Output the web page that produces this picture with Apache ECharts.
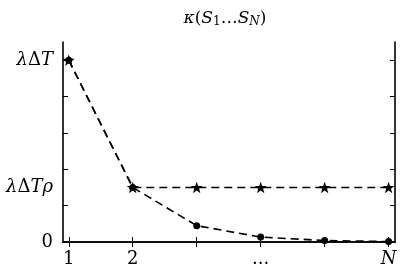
<!DOCTYPE html>
<html>
<head>
<meta charset="utf-8">
<script src="https://cdn.jsdelivr.net/npm/echarts@6/dist/echarts.min.js"></script>
<style>html,body{margin:0;padding:0;background:#fff}#c{width:415px;height:268px}</style>
</head>
<body>
<div id="c"></div>
<script>
// ---- data ----
var xValues = [1, 2, 3, 4, 5, 6];
var starValues = [1.0, 0.3, 0.3, 0.3, 0.3, 0.3];
var dotValues = [1.0, 0.3, 0.09, 0.027, 0.0081, 0.0024];
var xTickValues = [1, 2, 3, 4, 5, 6];
var xLabelValues = [1, 2, 4, 6];
var xLabelTexts = ['{n|1}', '{n|2}', '{n|...}', '{i|N}'];
var yTickValues = [0, 0.2, 0.4, 0.6, 0.8, 1.0];
var yLabelValues = [0, 0.3, 1.0];
var yLabelTexts = ['{n|0}', '{i|λ}{n|Δ}{i|Tρ}', '{i|λ}{n|Δ}{i|T}'];

var FONT = 'DejaVu Serif';
var FS = 18;
var rich = {
  n: {fontFamily: FONT, fontSize: FS, fontWeight: 'normal', color: '#000'},
  i: {fontFamily: FONT, fontSize: FS, fontWeight: 'normal', fontStyle: 'italic', color: '#000'}
};
function pairs(xs, ys) { return xs.map(function (x, k) { return [x, ys[k]]; }); }
function lookup(vals, texts) {
  return function (v) {
    for (var k = 0; k < vals.length; k++) if (Math.abs(vals[k] - v) < 1e-6) return texts[k];
    return '';
  };
}
var starPath = 'path://M0,-10 L2.35,-3.24 L9.51,-3.09 L3.8,1.24 L5.88,8.09 L0,4 L-5.88,8.09 L-3.8,1.24 L-9.51,-3.09 L-2.35,-3.24 Z';
var axLine = {show: true, lineStyle: {color: '#000', width: 1.6}};

var chart = echarts.init(document.getElementById('c'), null, {renderer: 'canvas'});
chart.setOption({
  animation: false,
  title: {
    text: '{i|κ}{n|(}{i|S}{s|1}{n|…}{i|S}{si|N}{n|)}',
    left: 220, top: 4, textAlign: 'center',
    textStyle: {
      fontWeight: 'normal',
      rich: {
        n: {fontFamily: FONT, fontSize: 17, fontWeight: 'normal', color: '#000'},
        i: {fontFamily: FONT, fontSize: 17, fontWeight: 'normal', fontStyle: 'italic', color: '#000'},
        s: {fontFamily: FONT, fontSize: 12, fontWeight: 'normal', color: '#000', verticalAlign: 'bottom', padding: [7, 0, 0, 0]},
        si: {fontFamily: FONT, fontSize: 12, fontWeight: 'normal', fontStyle: 'italic', color: '#000', verticalAlign: 'bottom', padding: [7, 0, 0, 0]}
      }
    }
  },
  grid: {left: 63, right: 20, top: 42, bottom: 25, containLabel: false},
  xAxis: [{
    type: 'value', position: 'bottom', min: 0.91, max: 6.1,
    axisLine: axLine,
    axisTick: {show: true, inside: true, length: 5, customValues: xTickValues, lineStyle: {color: '#000', width: 1}},
    axisLabel: {show: true, customValues: xLabelValues, margin: 8, formatter: lookup(xLabelValues, xLabelTexts), rich: rich},
    splitLine: {show: false}
  }, {
    type: 'value', position: 'top', min: 0.91, max: 6.1,
    axisLine: axLine,
    axisTick: {show: true, inside: true, length: 5, customValues: xTickValues, lineStyle: {color: '#000', width: 1}},
    axisLabel: {show: false},
    splitLine: {show: false}
  }],
  yAxis: [{
    type: 'value', position: 'left', min: 0, max: 1.1,
    axisLine: axLine,
    axisTick: {show: true, inside: true, length: 5, customValues: yTickValues, lineStyle: {color: '#000', width: 1}},
    axisLabel: {show: true, customValues: yLabelValues, margin: 10, formatter: lookup(yLabelValues, yLabelTexts), rich: rich},
    splitLine: {show: false}
  }, {
    type: 'value', position: 'right', min: 0, max: 1.1,
    axisLine: axLine,
    axisTick: {show: true, inside: true, length: 5, customValues: yTickValues, lineStyle: {color: '#000', width: 1}},
    axisLabel: {show: false},
    splitLine: {show: false}
  }],
  series: [{
    type: 'line', xAxisIndex: 0, yAxisIndex: 0, z: 2,
    data: pairs(xValues, dotValues),
    symbol: 'circle', symbolSize: 7,
    itemStyle: {color: '#000'},
    lineStyle: {color: '#000', width: 1.6, type: [8, 5]},
    clip: true
  }, {
    type: 'line', xAxisIndex: 0, yAxisIndex: 0, z: 3,
    data: pairs(xValues, starValues),
    symbol: starPath, symbolSize: 12, symbolKeepAspect: true,
    itemStyle: {color: '#000'},
    lineStyle: {color: '#000', width: 1.6, type: [8, 5]}
  }]
});
</script>
</body>
</html>
